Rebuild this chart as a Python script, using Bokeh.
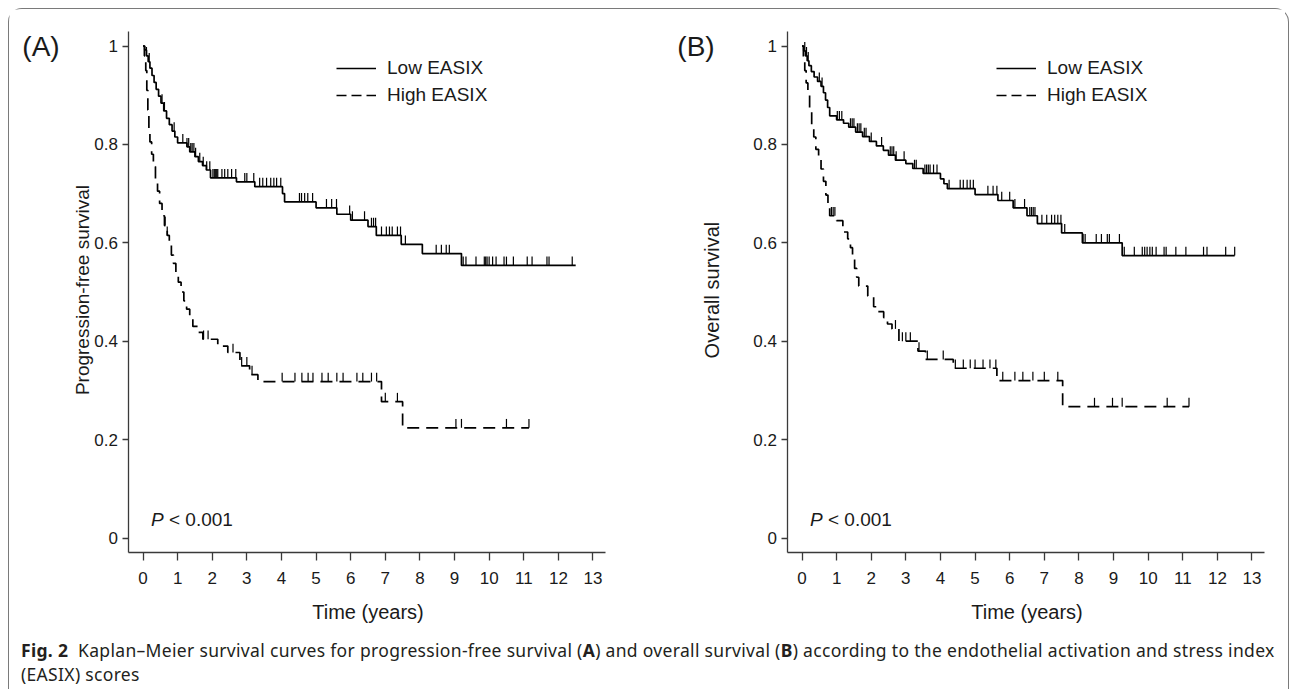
import numpy as np
from bokeh.plotting import figure
from bokeh.models import (Label, Legend, LegendItem, FixedTicker, NumeralTickFormatter,
                          Range1d, Div)
from bokeh.layouts import column, row
from bokeh.embed import file_html
from bokeh.resources import INLINE

# ---------------- data ----------------
x_ticks = list(range(0, 14))
y_ticks = [0, 0.2, 0.4, 0.6, 0.8, 1.0]

# Panel A: progression-free survival
pfs_low_t = [0, 0.05, 0.1, 0.15, 0.2, 0.26, 0.32, 0.38, 0.45, 0.52, 0.6, 0.68, 0.76, 0.84,
             0.92, 1.0, 1.27, 1.35, 1.5, 1.6, 1.72, 1.83, 1.95, 2.7, 3.23, 4.03, 4.09, 5.0,
             5.6, 6.0, 6.5, 6.74, 7.46, 8.07, 9.2]
pfs_low_s = [1.0, 0.992, 0.98, 0.968, 0.955, 0.94, 0.926, 0.912, 0.898, 0.884, 0.868, 0.853,
             0.84, 0.827, 0.815, 0.803, 0.795, 0.785, 0.775, 0.765, 0.757, 0.748, 0.732, 0.724,
             0.714, 0.70, 0.683, 0.671, 0.658, 0.646, 0.633, 0.615, 0.597, 0.578, 0.554]
pfs_low_end = 12.5
pfs_low_cens = [0.1, 0.18, 0.55, 0.62, 0.9, 1.15, 1.27, 1.32, 1.38, 1.42, 1.47, 1.52, 1.64,
                1.74, 1.84, 1.93, 2.02, 2.06, 2.1, 2.13, 2.16, 2.28, 2.36, 2.45, 2.56, 2.68,
                2.94, 3.0, 3.2, 3.37, 3.46, 3.57, 3.69, 3.78, 3.86, 3.98, 4.52, 4.58, 4.67,
                4.76, 4.9, 5.3, 5.45, 5.59, 5.97, 6.05, 6.4, 6.6, 6.66, 6.72, 6.89, 7.03, 7.12,
                7.2, 7.35, 7.44, 7.58, 8.47, 8.62, 8.76, 8.85, 9.25, 9.33, 9.62, 9.86, 9.9,
                9.94, 10.0, 10.1, 10.2, 10.43, 10.5, 10.7, 11.1, 11.24, 11.67, 11.73, 12.4]

pfs_high_t = [0, 0.04, 0.08, 0.11, 0.14, 0.17, 0.2, 0.25, 0.3, 0.36, 0.42, 0.48, 0.55, 0.62,
              0.7, 0.76, 0.82, 0.88, 0.95, 1.02, 1.1, 1.18, 1.26, 1.35, 1.44, 1.6, 1.73, 2.16,
              2.45, 2.8, 3.08, 3.32, 6.89, 7.5]
pfs_high_s = [1.0, 0.98, 0.95, 0.91, 0.87, 0.83, 0.805, 0.78, 0.755, 0.73, 0.705, 0.68, 0.655,
              0.635, 0.615, 0.595, 0.575, 0.558, 0.54, 0.52, 0.5, 0.482, 0.465, 0.449, 0.43,
              0.418, 0.404, 0.39, 0.377, 0.35, 0.332, 0.318, 0.277, 0.224]
pfs_high_end = 11.15
pfs_high_cens = [0.64, 0.7, 1.75, 1.88, 2.6, 2.85, 3.0, 3.15, 4.02, 4.39, 4.59, 4.77, 4.91,
                 5.17, 5.35, 5.6, 5.78, 6.18, 6.35, 6.6, 6.75, 7.0, 7.35, 9.04, 9.2, 10.5, 11.15]

# Panel B: overall survival
os_low_t = [0, 0.05, 0.1, 0.15, 0.2, 0.27, 0.35, 0.45, 0.55, 0.62, 0.68, 0.74, 0.8, 1.0, 1.2,
            1.35, 1.55, 1.75, 1.95, 2.15, 2.35, 2.5, 2.7, 3.0, 3.2, 3.5, 4.0, 4.1, 4.2, 5.0,
            5.66, 6.1, 6.5, 6.8, 7.5, 8.1, 9.25]
os_low_s = [1.0, 0.99, 0.98, 0.97, 0.96, 0.948, 0.937, 0.928, 0.918, 0.905, 0.89, 0.875, 0.858,
            0.85, 0.843, 0.835, 0.825, 0.816, 0.806, 0.797, 0.788, 0.778, 0.768, 0.761, 0.751,
            0.741, 0.73, 0.72, 0.71, 0.698, 0.686, 0.671, 0.655, 0.639, 0.62, 0.60, 0.574]
os_low_end = 12.5
os_low_cens = [0.08, 0.13, 0.18, 0.5, 0.58, 1.02, 1.08, 1.15, 1.4, 1.45, 1.5, 1.6, 1.65, 1.7,
               1.8, 1.85, 2.0, 2.3, 2.55, 2.6, 2.65, 2.72, 2.95, 3.25, 3.3, 3.55, 3.6, 3.65,
               3.7, 3.8, 3.9, 4.25, 4.57, 4.66, 4.77, 4.86, 4.95, 5.37, 5.52, 5.63, 5.77, 6.0,
               6.15, 6.43, 6.58, 6.63, 6.68, 6.73, 6.93, 7.07, 7.21, 7.3, 7.39, 7.48, 7.59,
               8.12, 8.18, 8.5, 8.65, 8.82, 8.88, 9.17, 9.31, 9.6, 9.83, 9.9, 9.97, 10.05,
               10.12, 10.23, 10.46, 10.52, 10.8, 11.09, 11.6, 11.7, 12.24, 12.5]

os_high_t = [0, 0.04, 0.08, 0.12, 0.17, 0.22, 0.28, 0.34, 0.4, 0.48, 0.55, 0.62, 0.69, 0.75,
             0.8, 1.0, 1.18, 1.32, 1.4, 1.46, 1.52, 1.58, 1.64, 1.9, 2.07, 2.18, 2.36, 2.47,
             2.6, 2.8, 3.35, 3.57, 4.37, 5.63, 7.53]
os_high_s = [1.0, 0.975, 0.95, 0.925, 0.9, 0.87, 0.84, 0.815, 0.79, 0.77, 0.75, 0.725, 0.697,
             0.675, 0.655, 0.645, 0.622, 0.608, 0.59, 0.567, 0.548, 0.53, 0.512, 0.492, 0.47,
             0.46, 0.448, 0.435, 0.425, 0.40, 0.38, 0.363, 0.345, 0.32, 0.267]
os_high_end = 11.18
os_high_cens = [0.85, 0.9, 0.95, 2.7, 2.9, 3.0, 3.13, 3.38, 3.62, 4.08, 4.43, 4.66, 4.86, 5.0,
                5.23, 5.43, 5.6, 5.8, 6.15, 6.38, 6.67, 7.0, 7.39, 8.45, 8.97, 9.25, 10.55,
                11.18]

# ---------------- styling / geometry ----------------
FONT = "Liberation Sans"
AXC = "#3a3a3a"
TXT = "#1a1a1a"
CURVE_W = 1.7
DASH = "12 7"
TICK_H = 0.018

PX_PER_YEAR = 34.615
PX_PER_UNIT = 492.0
FIG_H = 624
Y_AXIS_AT = -0.4045        # where the y axis line stands (years)
X_AXIS_AT = -0.0295        # where the x axis line stands (survival)
X_AXIS_BOUNDS = (-0.4045, 13.347)
Y_AXIS_BOUNDS = (-0.0295, 1.03)


def km_panel(width, zero_offset_px, ylabel, ylabel_x, ylabel_size, tag, tag_x, leg_x,
             low, high):
    # frame covers the whole figure; axes are placed at fixed locations inside it
    x0 = -zero_offset_px / PX_PER_YEAR
    x1 = x0 + width / PX_PER_YEAR
    y1 = (538.0 - 9.5) / PX_PER_UNIT
    y0 = y1 - FIG_H / PX_PER_UNIT
    p = figure(width=width, height=FIG_H, output_backend="svg", toolbar_location=None,
               x_range=Range1d(x0, x1), y_range=Range1d(y0, y1), min_border=0)
    p.outline_line_color = None
    p.grid.visible = False
    p.background_fill_color = "white"
    p.border_fill_color = "white"

    for ax in (p.xaxis[0], p.yaxis[0]):
        ax.axis_line_color = AXC
        ax.axis_line_width = 1.3
        ax.major_tick_line_color = AXC
        ax.major_tick_line_width = 1.3
        ax.minor_tick_line_color = None
        ax.major_tick_in = 0
        ax.major_label_text_font = FONT
        ax.major_label_text_font_size = "17px"
        ax.major_label_text_color = TXT

    p.xaxis.ticker = FixedTicker(ticks=x_ticks)
    p.xaxis.fixed_location = X_AXIS_AT
    p.xaxis.bounds = X_AXIS_BOUNDS
    p.xaxis.major_tick_out = 8
    p.xaxis.major_label_standoff = 11

    p.yaxis.ticker = FixedTicker(ticks=y_ticks)
    p.yaxis.formatter = NumeralTickFormatter(format="0.[0]")
    p.yaxis.fixed_location = Y_AXIS_AT
    p.yaxis.bounds = Y_AXIS_BOUNDS
    p.yaxis.major_tick_out = 6
    p.yaxis.major_label_standoff = 5

    for (t, s, end, cens), dash in ((low, "solid"), (high, DASH)):
        t_arr = np.array(t + [end], dtype=float)
        s_arr = np.array(s + [s[-1]], dtype=float)
        p.step(x=t_arr, y=s_arr, mode="after", line_color="black",
               line_width=CURVE_W, line_dash=dash)
        c = np.array(cens, dtype=float)
        idx = np.searchsorted(np.array(t, dtype=float), c, side="right") - 1
        cs = np.array(s, dtype=float)[idx]
        p.segment(x0=c, y0=cs, x1=c, y1=cs + TICK_H, line_color="black",
                  line_width=1.2)

    # legend with its own glyph renderers (a single NaN point, so nothing is drawn)
    leg_low = p.line(x=[np.nan], y=[np.nan], line_color="black", line_width=CURVE_W)
    leg_high = p.line(x=[np.nan], y=[np.nan], line_color="black", line_width=CURVE_W,
                      line_dash="10 5")
    legend = Legend(items=[LegendItem(label="Low EASIX", renderers=[leg_low]),
                           LegendItem(label="High EASIX", renderers=[leg_high])],
                    location=(leg_x, FIG_H - 106.5 + 9.5), glyph_width=40, glyph_height=20,
                    label_height=20, label_standoff=11, spacing=5, padding=0, margin=0,
                    border_line_color=None, background_fill_alpha=0,
                    label_text_font=FONT, label_text_font_size="19px",
                    label_text_color=TXT)
    p.add_layout(legend)

    # panel tag, axis titles and P value
    p.add_layout(Label(x=tag_x, y=1.0, text=tag, text_align="center",
                       text_baseline="middle", text_font=FONT, text_font_size="28px",
                       text_color=TXT))
    p.add_layout(Label(x=6.5, y=-0.1504, text="Time (years)", text_align="center",
                       text_baseline="middle", text_font=FONT, text_font_size="20px",
                       text_color=TXT))
    p.add_layout(Label(x=ylabel_x, y=0.504, text=ylabel, angle=np.pi / 2,
                       text_align="center", text_baseline="middle", text_font=FONT,
                       text_font_size=ylabel_size, text_color=TXT))
    p.add_layout(Label(x=0.23, y=0.038, text="P", text_align="left",
                       text_baseline="alphabetic", text_font=FONT, text_font_size="19px",
                       text_font_style="italic", text_color=TXT))
    p.add_layout(Label(x=0.23, y=0.038, x_offset=18, text="< 0.001", text_align="left",
                       text_baseline="alphabetic", text_font=FONT, text_font_size="19px",
                       text_color=TXT))
    return p


# figure A starts at page x 9.5 (x=0 at page 143); figure B at 650.5 (x=0 at page 802)
pA = km_panel(641, 143 - 9.5, "Progression-free survival", -1.762, "19px", "(A)", -2.947,
              327, (pfs_low_t, pfs_low_s, pfs_low_end, pfs_low_cens),
              (pfs_high_t, pfs_high_s, pfs_high_end, pfs_high_cens))
pB = km_panel(635, 802 - 650.5, "Overall survival", -2.6, "20px", "(B)", -3.062,
              346, (os_low_t, os_low_s, os_low_end, os_low_cens),
              (os_high_t, os_high_s, os_high_end, os_high_cens))

caption = Div(
    text=("<b>Fig. 2</b>&nbsp;&nbsp;Kaplan\u2013Meier survival curves for progression-free "
          "survival (<b>A</b>) and overall survival (<b>B</b>) according to the endothelial "
          "activation and stress index<br>(EASIX) scores"),
    width=1269, height=46,
    styles={"font-family": "Noto Sans", "font-size": "17.5px", "line-height": "24px",
            "letter-spacing": "0.32px", "color": "#231f20", "white-space": "nowrap",
            "padding-left": "7px"})

layout = column(row(pA, pB), caption,
                styles={"border": "1.5px solid #7a7a7a", "border-bottom": "none",
                        "border-radius": "14px 14px 0 0",
                        "margin-left": "8px", "margin-top": "8px"})

open("out.html", "w").write(file_html(layout, INLINE))
